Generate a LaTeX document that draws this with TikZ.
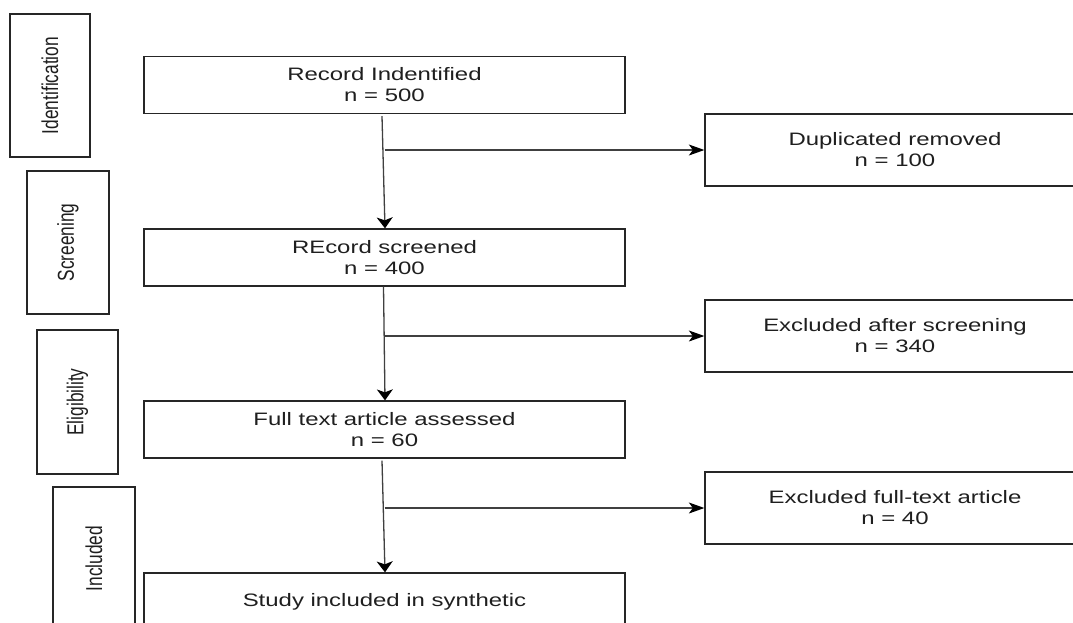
\documentclass[tikz,border=0pt]{standalone}
\usepackage{fontspec}
\setmainfont{Liberation Sans}
\usetikzlibrary{arrows.meta,calc}
\newcommand\hx[1]{\scalebox{1.33}[1]{#1}}
\newcommand\vx[1]{\scalebox{1}[1.33]{#1}}
\begin{document}
\begin{tikzpicture}[x=1pt,y=-1pt,
  box/.style={draw=black!85, line width=1.3pt, inner sep=0pt, align=center, text=black!88, font=\fontsize{18}{21}\selectfont},
  side/.style={box, rotate=90, font=\fontsize{17.3}{20}\selectfont},
  flow/.style={draw=black!75, line width=1.3pt, -{Stealth[length=11pt,width=16pt,inset=3pt,color=black]}},
  branch/.style={draw=black!75, line width=1.3pt, -{Stealth[length=15.5pt,width=11pt,inset=4pt,color=black]}}]
\useasboundingbox (0,0) rectangle (1073,622);
\clip (0,0) rectangle (1073,622);
\fill[white] (0,0) rectangle (1073,622);
% phase boxes
\node[side, minimum width=143, minimum height=80] (sid) at (50,85.5) {\vx{Identification}};
\node[side, minimum width=143, minimum height=82] (sscr) at (68,242.5) {\vx{Screening}};
\node[side, minimum width=144, minimum height=81] (selig) at (77.5,402) {\vx{Eligibility}};
\node[side, minimum width=143, minimum height=82] (sinc) at (94,558.5) {\vx{Included}};
% main flow boxes
\node[box, minimum width=481, minimum height=57] (rec) at (384.5,85) {\hx{Record Indentified}\\\hx{n = 500}};
\node[box, minimum width=481, minimum height=57] (scr) at (384.5,257.5) {\hx{REcord screened}\\\hx{n = 400}};
\node[box, minimum width=481, minimum height=57] (full) at (384.5,429.5) {\hx{Full text article assessed}\\\hx{n = 60}};
\node[box, minimum width=481, minimum height=57] (inc) at (384.5,601.5) {\hx{Study included in synthetic}};
% exclusion boxes
\node[box, minimum width=380, minimum height=72] (dup) at (895,150) {\hx{Duplicated removed}\\\hx{n = 100}};
\node[box, minimum width=380, minimum height=72] (exs) at (895,336) {\hx{Excluded after screening}\\\hx{n = 340}};
\node[box, minimum width=380, minimum height=72] (exf) at (895,508) {\hx{Excluded full-text article}\\\hx{n = 40}};
% vertical connectors
\draw[flow] ($(rec.south)+(-2.5,2)$) -- ($(scr.north)+(0.5,0)$);
\draw[flow] ($(scr.south)+(-1,0)$) -- ($(full.north)+(0.5,0)$);
\draw[flow] ($(full.south)+(-2.5,2)$) -- ($(inc.north)+(0.5,0)$);
% branch connectors
\coordinate (j1) at (rec.south |- dup.west);
\coordinate (j2) at (scr.south |- exs.west);
\coordinate (j3) at (full.south |- exf.west);
\draw[branch] (j1) -- (dup.west);
\draw[branch] (j2) -- (exs.west);
\draw[branch] (j3) -- (exf.west);
\end{tikzpicture}
\end{document}
